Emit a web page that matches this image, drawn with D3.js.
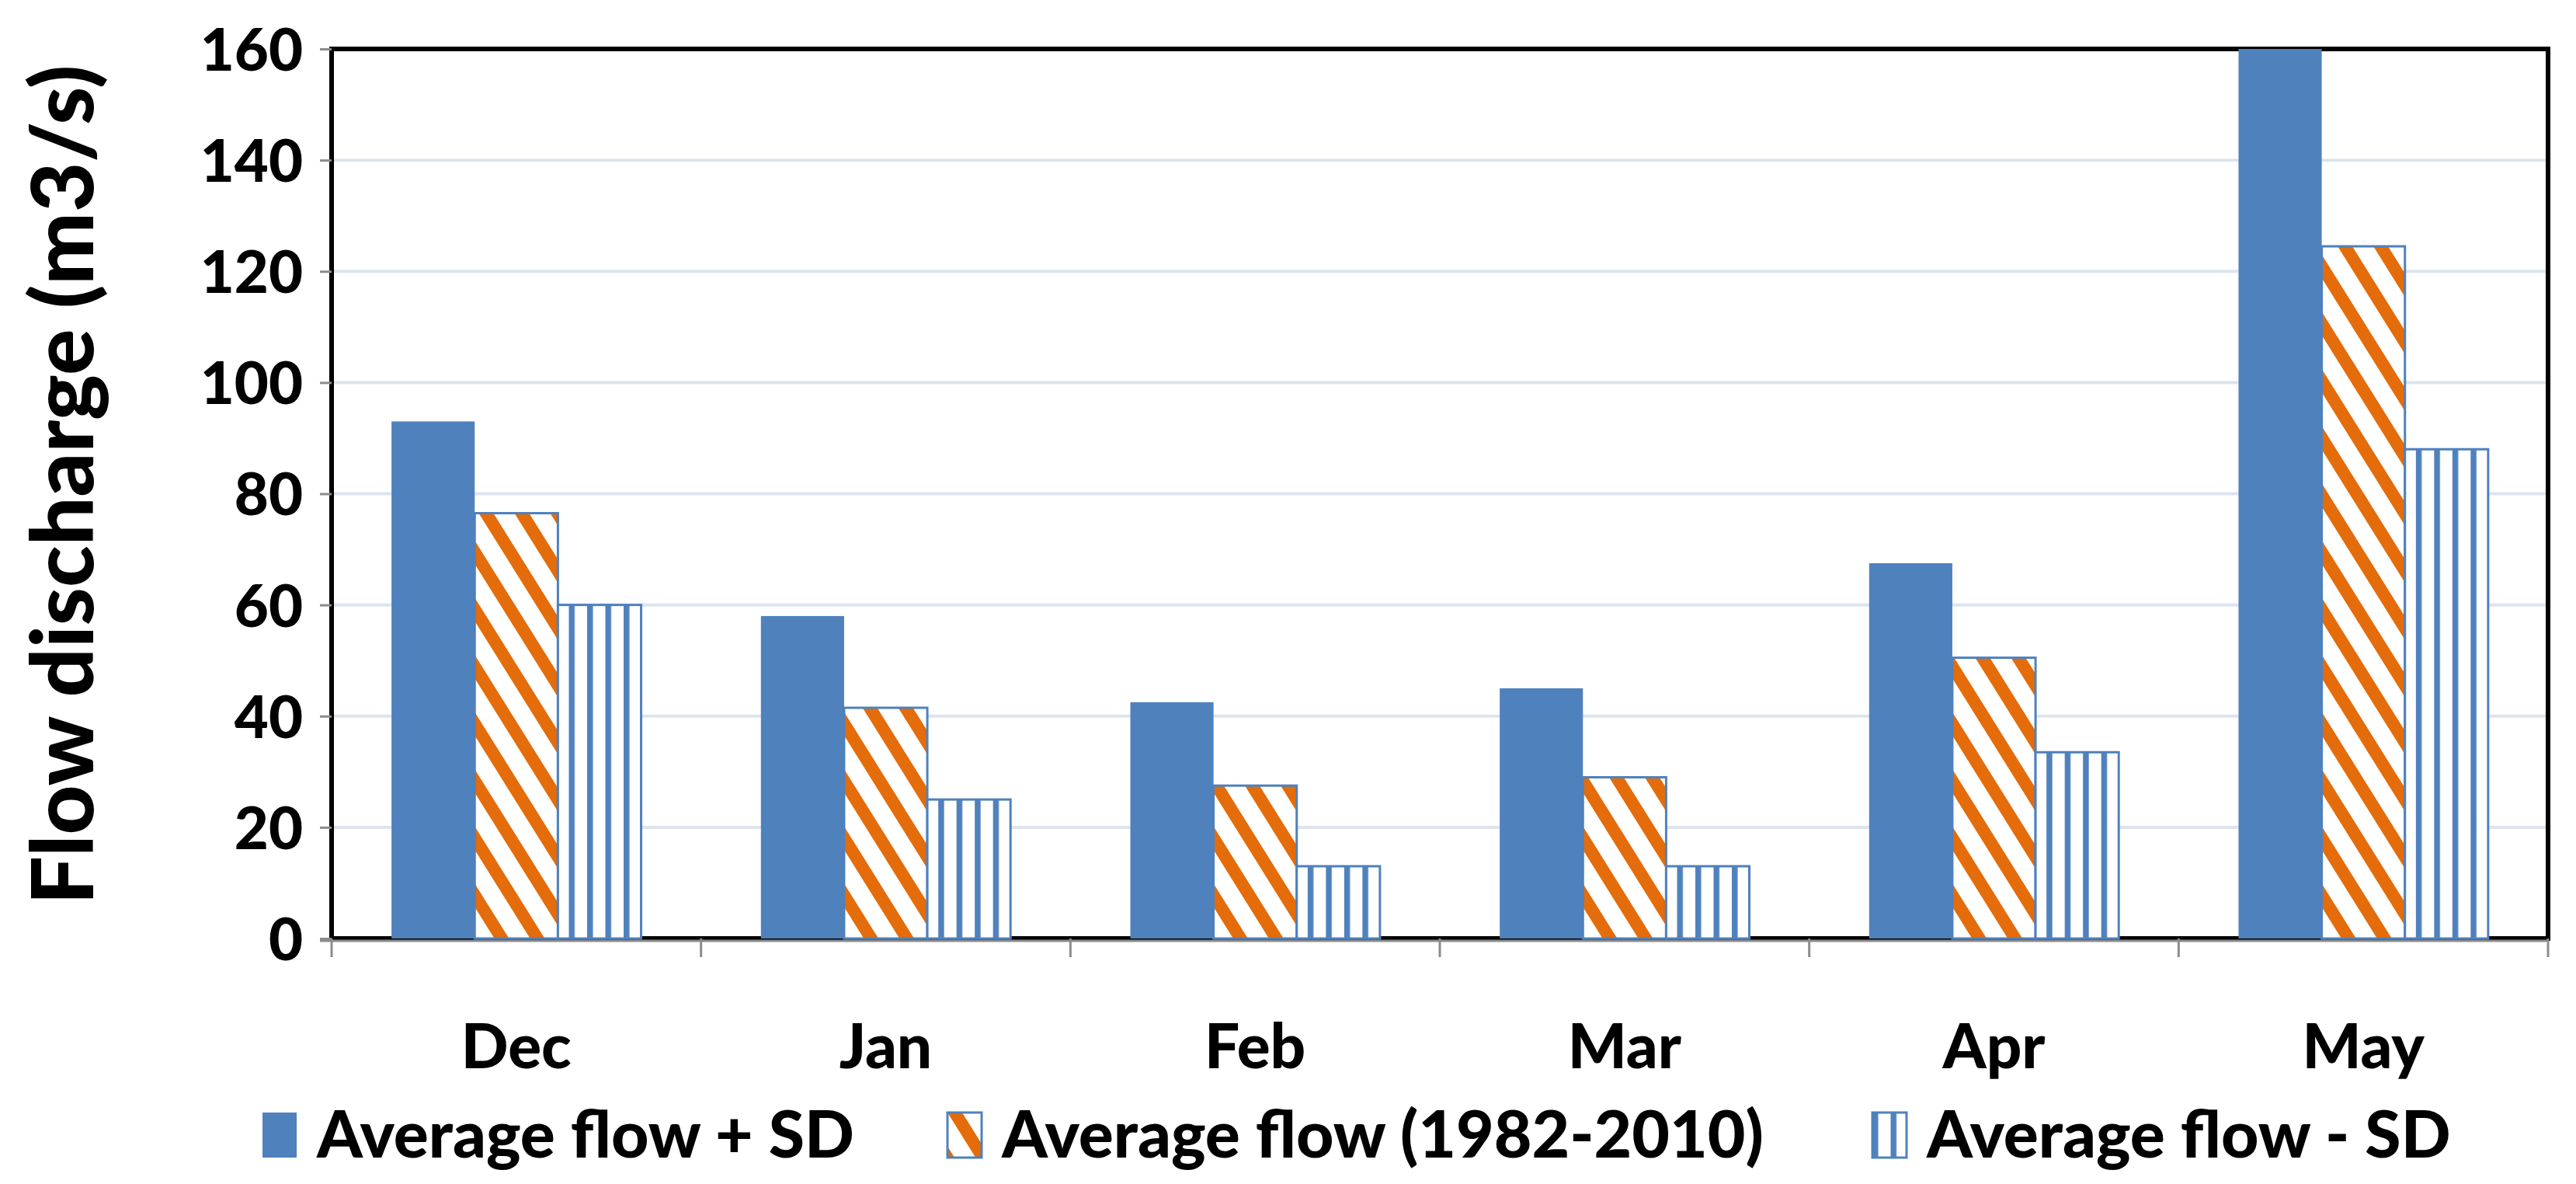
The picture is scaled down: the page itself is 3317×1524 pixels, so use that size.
<!DOCTYPE html>
<html>
<head>
<meta charset="utf-8">
<script src="https://cdn.jsdelivr.net/npm/d3@7"></script>
<style>
  body { margin: 0; background: #fff; }
  text { font-family: Lato, "Open Sans", sans-serif; font-weight: 900; fill: #000; }
</style>
</head>
<body>
<svg id="chart" width="3317" height="1524"></svg>
<script>
// data
const months = ["Dec", "Jan", "Feb", "Mar", "Apr", "May"];
const plusSD = [93, 58, 42.5, 45, 67.5, 160];
const average = [76.5, 41.5, 27.5, 29, 50.5, 124.5];
const minusSD = [60, 25, 13, 13, 33.5, 88];
const seriesNames = ["Average flow + SD", "Average flow (1982-2010)", "Average flow - SD"];
const yTicks = [0, 20, 40, 60, 80, 100, 120, 140, 160];

const svgWidth = 3317, svgHeight = 1524;
const margin = { top: 63, right: 36, bottom: 316, left: 427 };
const w = svgWidth - margin.left - margin.right;
const h = svgHeight - margin.top - margin.bottom;

const blue = "#4f81bd", orange = "#e46c0a";

const svg = d3.select("#chart");

// fill patterns
const defs = svg.append("defs");
const hatch = defs.append("pattern")
    .attr("id", "hatch")
    .attr("patternUnits", "userSpaceOnUse")
    .attr("width", 39).attr("height", 39)
    .attr("patternTransform", "rotate(-32)");
hatch.append("rect").attr("width", 39).attr("height", 39).attr("fill", "#fff");
hatch.append("rect").attr("width", 16).attr("height", 39).attr("fill", orange);

const vstripe = defs.append("pattern")
    .attr("id", "vstripe")
    .attr("patternUnits", "userSpaceOnUse")
    .attr("width", 23.5).attr("height", 10);
vstripe.append("rect").attr("width", 23.5).attr("height", 10).attr("fill", "#fff");
vstripe.append("rect").attr("width", 7.5).attr("height", 10).attr("fill", blue);

const fills = ["url(#hatch)", "url(#vstripe)"];

const rows = months.map((m, i) => ({ month: m, values: [plusSD[i], average[i], minusSD[i]] }));

const x0 = d3.scaleBand().domain(months).range([0, w]);
const x1 = d3.scaleBand().domain([0, 1, 2]).range([0, x0.bandwidth()]).paddingOuter(0.72);
const y = d3.scaleLinear().domain([0, 160]).range([h, 0]).clamp(true);

const g = svg.append("g").attr("transform", `translate(${margin.left},${margin.top})`);

// gridlines
g.append("g").selectAll("line").data(yTicks.slice(1, -1)).enter().append("line")
    .attr("x1", 0).attr("x2", w)
    .attr("y1", d => y(d)).attr("y2", d => y(d))
    .attr("stroke", "#dce4ef").attr("stroke-width", 4);

// plot border
g.append("rect")
    .attr("width", w).attr("height", h)
    .attr("fill", "none").attr("stroke", "#000").attr("stroke-width", 6);

// gray axis line under the border and category ticks
g.append("line").attr("x1", -15).attr("x2", w).attr("y1", h + 3).attr("y2", h + 3)
    .attr("stroke", "#8c8c8c").attr("stroke-width", 3);
g.append("g").selectAll("line").data(months.concat([null])).enter().append("line")
    .attr("x1", (d, i) => i < months.length ? x0(d) : w)
    .attr("x2", (d, i) => i < months.length ? x0(d) : w)
    .attr("y1", h).attr("y2", h + 24)
    .attr("stroke", "#8c8c8c").attr("stroke-width", 3);

// y axis ticks and labels
const yAxis = g.append("g")
    .call(d3.axisLeft(y).tickValues(yTicks).tickSize(15).tickPadding(22));
yAxis.select(".domain").remove();
yAxis.selectAll(".tick line").attr("stroke", "#8c8c8c").attr("stroke-width", 3);
yAxis.selectAll(".tick text").style("font-size", "76px").attr("dy", "0.36em");

// bars
const groups = g.append("g").selectAll(".bar").data(rows).enter().append("g")
    .attr("class", "bar")
    .attr("transform", d => `translate(${x0(d.month)},0)`);

groups.selectAll("rect").data(d => d.values).enter().append("rect")
    .attr("x", (d, i) => x1(i))
    .attr("width", x1.bandwidth())
    .attr("y", d => y(d))
    .attr("height", d => h - y(d))
    .attr("fill", (d, i) => i === 0 ? blue : fills[i - 1])
    .attr("stroke", blue)
    .attr("stroke-width", (d, i) => i === 0 ? 0 : 3);

// month labels
g.append("g").selectAll("text").data(months).enter().append("text")
    .attr("x", d => x0(d) + x0.bandwidth() / 2)
    .attr("y", h + 167)
    .attr("text-anchor", "middle")
    .style("font-size", "80px")
    .text(d => d);

// y title
svg.append("text")
    .attr("transform", `translate(120,624) rotate(-90)`)
    .attr("text-anchor", "middle")
    .style("font-size", "111px")
    .text("Flow discharge (m3/s)");

// legend
const legendX = [338, 1220, 2411];
const legendFills = [blue, "url(#hatch)", "url(#vstripe)"];
const legend = svg.append("g").selectAll("g").data(seriesNames).enter().append("g")
    .attr("transform", (d, i) => `translate(${legendX[i]},1432)`);
legend.append("rect")
    .attr("width", 44).attr("height", 58)
    .attr("fill", (d, i) => legendFills[i])
    .attr("stroke", blue).attr("stroke-width", (d, i) => i === 0 ? 0 : 3);
legend.append("text")
    .attr("x", 70).attr("y", 58)
    .style("font-size", "84px")
    .text(d => d);
</script>
</body>
</html>
